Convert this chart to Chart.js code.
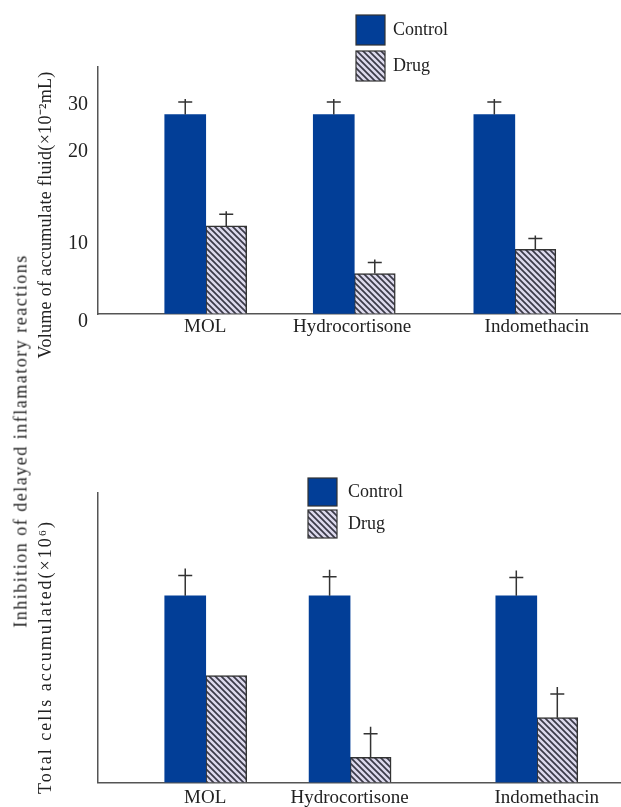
<!DOCTYPE html>
<html>
<head>
<meta charset="utf-8">
<script src="https://cdn.jsdelivr.net/npm/chart.js@4.4.0/dist/chart.umd.min.js"></script>
<style>
  html, body { margin: 0; padding: 0; background: #fff; }
  body { width: 621px; height: 807px; position: relative; overflow: hidden; }
  #fluidWrap { position: absolute; left: 0; top: 0; width: 621px; height: 360px; }
  #cellsWrap { position: absolute; left: 0; top: 455px; width: 621px; height: 352px; }
  #outerTitle {
    position: absolute; left: 21px; top: 441px;
    transform: translate(-50%, -50%) rotate(-90deg);
    white-space: nowrap; font-family: "Liberation Serif", serif;
    font-size: 18px; letter-spacing: 1.5px; color: #222;
  }
</style>
</head>
<body>
<div id="fluidWrap"><canvas id="fluidChart"></canvas></div>
<div id="cellsWrap"><canvas id="cellsChart"></canvas></div>
<div id="outerTitle">Inhibition of delayed inflamatory reactions</div>
<script>
const categories = ['MOL', 'Hydrocortisone', 'Indomethacin'];
const seriesNames = ['Control', 'Drug'];

// top panel: volume of accumulated fluid
const fluidControl = [25.6, 25.6, 25.6];
const fluidControlErr = [1.6, 1.6, 1.6];
const fluidDrug = [11.3, 5.2, 8.3];
const fluidDrugErr = [1.5, 1.4, 1.4];
const fluidTickValues = [0, 10, 21.8, 27.9];
const fluidTickLabels = ['0', '10', '20', '30'];

// bottom panel: total cells, no scale printed so relative units (0-100)
const cellsControl = [64.5, 64.5, 64.5];
const cellsControlErr = [7.0, 6.6, 6.3];
const cellsDrug = [36.9, 8.7, 22.4];
const cellsDrugErr = [null, 8.1, 8.2];

// where the groups and their names sit along each x axis (0-100)
const fluidGroupPos = [20.6, 49.0, 79.7];
const fluidLabelPos = [20.5, 48.6, 83.9];
const cellsGroupPos = [20.6, 48.2, 83.9];
const cellsLabelPos = [20.5, 48.1, 85.8];

Chart.defaults.font.family = '"Liberation Serif", serif';
Chart.defaults.color = '#222';

const CONTROL_BLUE = '#023e97';

// diagonal hatch for the Drug bars
function makeHatch() {
    const c = document.createElement('canvas');
    c.width = 6; c.height = 6;
    const g = c.getContext('2d');
    g.fillStyle = '#dcd9ec';
    g.fillRect(0, 0, 6, 6);
    g.strokeStyle = '#3a3a48';
    g.lineWidth = 1.7;
    g.beginPath();
    g.moveTo(-1, -1); g.lineTo(7, 7);
    g.moveTo(-4, 2); g.lineTo(4, 10);
    g.moveTo(2, -4); g.lineTo(10, 4);
    g.stroke();
    return g.createPattern(c, 'repeat');
}
const hatch = makeHatch();

// dagger-like error bars: line up from bar top, crossbar at mean+SD
const errorBars = {
    id: 'errorBars',
    afterDatasetsDraw(chart, args, opts) {
        const ctx = chart.ctx;
        const yScale = chart.scales.y;
        ctx.save();
        ctx.strokeStyle = '#333';
        ctx.lineWidth = 1.5;
        chart.data.datasets.forEach((ds, di) => {
            const meta = chart.getDatasetMeta(di);
            (ds.errors || []).forEach((e, i) => {
                if (e == null) return;
                const bar = meta.data[i];
                const capY = yScale.getPixelForValue(ds.data[i].y + e);
                ctx.beginPath();
                ctx.moveTo(bar.x, bar.y);
                ctx.lineTo(bar.x, capY - opts.extend);
                ctx.moveTo(bar.x - opts.cap, capY);
                ctx.lineTo(bar.x + opts.cap, capY);
                ctx.stroke();
            });
        });
        ctx.restore();
    }
};

// stacked legend boxes drawn inside the panel
const boxLegend = {
    id: 'boxLegend',
    afterDraw(chart, args, opts) {
        const ctx = chart.ctx;
        ctx.save();
        ctx.font = opts.fontSize + 'px "Liberation Serif"';
        ctx.textBaseline = 'middle';
        chart.data.datasets.forEach((ds, i) => {
            const top = opts.y + i * opts.step;
            ctx.fillStyle = ds.backgroundColor;
            ctx.fillRect(opts.x, top, opts.box, opts.boxH);
            ctx.strokeStyle = ds.borderWidth ? ds.borderColor : '#333';
            ctx.lineWidth = 1.2;
            ctx.strokeRect(opts.x, top, opts.box, opts.boxH);
            ctx.fillStyle = '#222';
            ctx.fillText(ds.label, opts.x + opts.box + opts.textGap, top + opts.boxH / 2);
        });
        ctx.restore();
    }
};

// rotated axis title placed freely
const sideTitle = {
    id: 'sideTitle',
    afterDraw(chart, args, opts) {
        const ctx = chart.ctx;
        ctx.save();
        ctx.translate(opts.x, opts.y);
        ctx.rotate(-Math.PI / 2);
        ctx.font = opts.fontSize + 'px "Liberation Serif"';
        ctx.letterSpacing = opts.spacing;
        ctx.textAlign = 'center';
        ctx.textBaseline = 'middle';
        ctx.fillStyle = '#222';
        ctx.fillText(opts.text, 0, 0);
        ctx.restore();
    }
};

function buildPanel(canvasId, p) {
    const toPoints = (vals, pos) => vals.map((v, i) => ({ x: pos[i], y: v }));
    return new Chart(document.getElementById(canvasId), {
        type: 'bar',
        data: {
            datasets: [{
                label: seriesNames[0],
                data: toPoints(p.control, p.groupPos),
                errors: p.controlErr,
                backgroundColor: CONTROL_BLUE,
                borderWidth: 0,
                barThickness: 41
            }, {
                label: seriesNames[1],
                data: toPoints(p.drug, p.groupPos),
                errors: p.drugErr,
                backgroundColor: hatch,
                borderColor: '#333',
                borderWidth: 1.5,
                barThickness: 41
            }]
        },
        options: {
            responsive: true,
            maintainAspectRatio: false,
            animation: false,
            layout: { padding: { top: p.padTop, left: 0, right: 0, bottom: 0 } },
            scales: {
                x: {
                    type: 'linear',
                    offset: false,
                    min: 0,
                    max: 100,
                    afterBuildTicks: s => { s.ticks = p.labelPos.map(v => ({ value: v })); },
                    afterFit: s => { s.height = p.xHeight; },
                    grid: { color: 'rgba(0,0,0,0)', drawTicks: false },
                    border: { color: '#555', width: 1.5 },
                    ticks: {
                        callback: (v, i) => categories[i],
                        font: { size: 19 },
                        padding: p.xPad,
                        autoSkip: false,
                        maxRotation: 0
                    }
                },
                y: {
                    min: 0,
                    max: p.yMax,
                    afterBuildTicks: s => { s.ticks = p.tickValues.map(v => ({ value: v })); },
                    afterFit: s => { s.width = 98; },
                    grid: { color: 'rgba(0,0,0,0)', drawTicks: false },
                    border: { color: '#555', width: 1.5 },
                    ticks: {
                        display: p.tickLabels.length > 0,
                        callback: (v, i) => p.tickLabels[i],
                        font: { size: 20 },
                        padding: 10,
                        labelOffset: 8
                    }
                }
            },
            plugins: {
                legend: { display: false },
                tooltip: { enabled: false },
                errorBars: { cap: 7, extend: p.extend },
                boxLegend: p.legend,
                sideTitle: p.title
            }
        },
        plugins: [errorBars, boxLegend, sideTitle]
    });
}

buildPanel('fluidChart', {
    control: fluidControl, controlErr: fluidControlErr,
    drug: fluidDrug, drugErr: fluidDrugErr,
    groupPos: fluidGroupPos, labelPos: fluidLabelPos,
    tickValues: fluidTickValues, tickLabels: fluidTickLabels,
    yMax: 31.7, padTop: 67, xHeight: 46, xPad: 2, extend: 3,
    legend: { x: 356, y: 15, box: 29, boxH: 30, step: 36, textGap: 8, fontSize: 18 },
    title: { text: 'Volume of accumulate fluid(×10⁻²mL)', x: 46, y: 215, fontSize: 18, spacing: '0.3px' }
});

buildPanel('cellsChart', {
    control: cellsControl, controlErr: cellsControlErr,
    drug: cellsDrug, drugErr: cellsDrugErr,
    groupPos: cellsGroupPos, labelPos: cellsLabelPos,
    tickValues: [0], tickLabels: [],
    yMax: 100, padTop: 38, xHeight: 24.5, xPad: 4, extend: 7,
    legend: { x: 308, y: 23, box: 29, boxH: 28, step: 32, textGap: 11, fontSize: 18 },
    title: { text: 'Total cells accumulated(×10⁶)', x: 46, y: 202, fontSize: 18, spacing: '2px' }
});
</script>
</body>
</html>
